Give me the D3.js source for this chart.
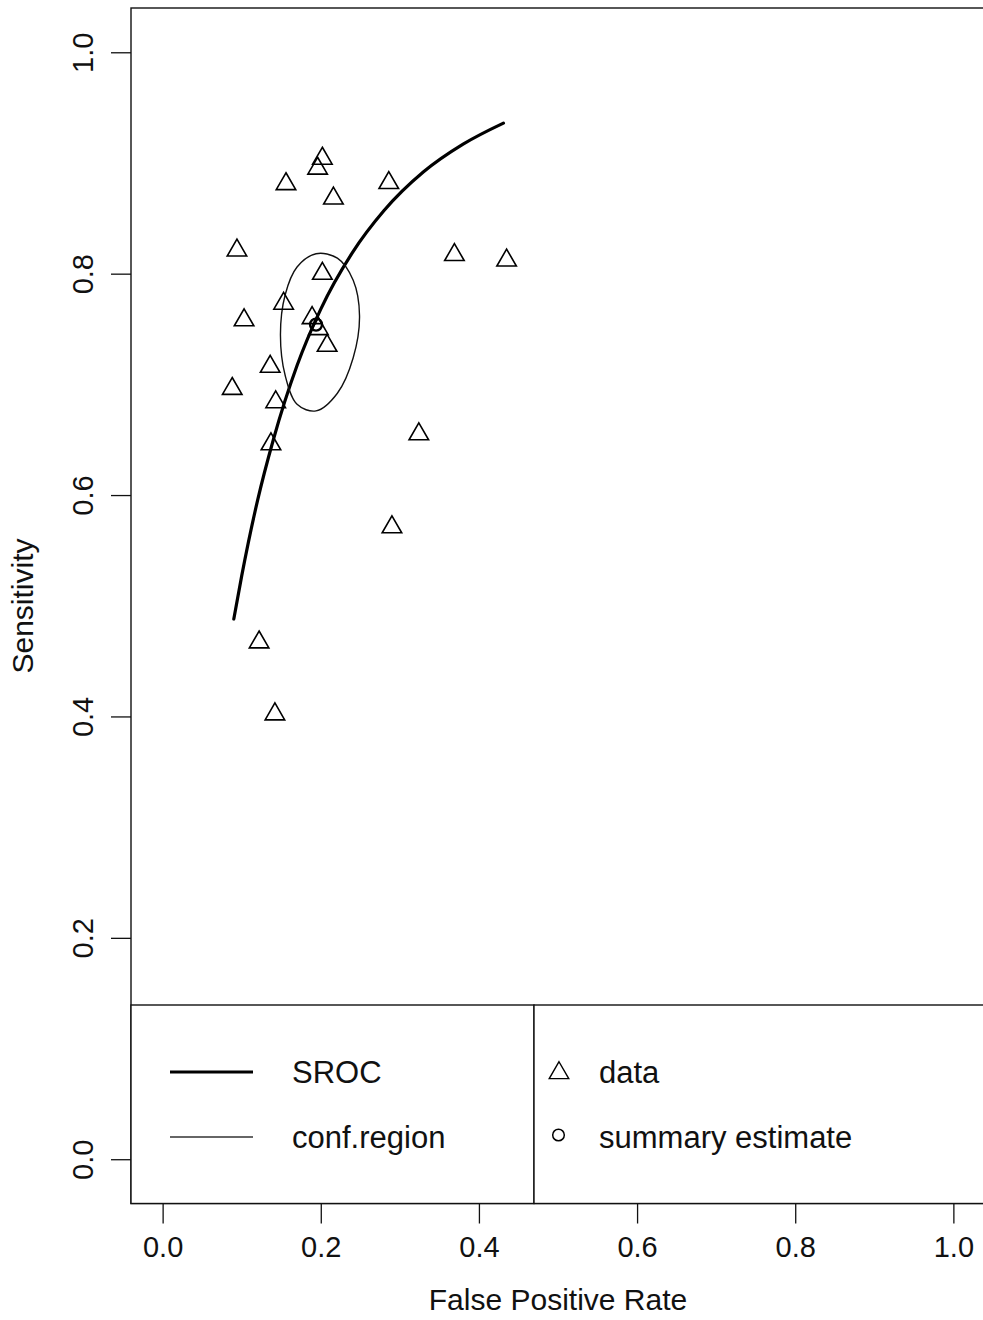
<!DOCTYPE html>
<html>
<head>
    <script type="text/javascript" src="https://d3js.org/d3.v7.min.js"></script>
</head>
<body style="margin:0px; background:white;">
    <svg id="SVGCanvas" width="983" height="1320"></svg>

    <script>
        // tick labels for both axes
        var tickVals = [0.0, 0.2, 0.4, 0.6, 0.8, 1.0];

        // the study points (triangles)
        var studyFpr  = [0.202, 0.196, 0.156, 0.286, 0.216, 0.094, 0.369, 0.435, 0.202, 0.153, 0.103,
                         0.189, 0.197, 0.208, 0.136, 0.088, 0.143, 0.324, 0.137, 0.290, 0.122, 0.142];
        var studySens = [0.904, 0.895, 0.881, 0.882, 0.868, 0.821, 0.817, 0.812, 0.800, 0.773, 0.758,
                         0.760, 0.750, 0.735, 0.716, 0.696, 0.684, 0.655, 0.646, 0.571, 0.467, 0.402];

        // summary estimate (circle)
        var summaryFpr = [0.194];
        var summarySens = [0.754];

        // SROC curve
        var srocFpr  = [0.090, 0.100, 0.120, 0.140, 0.170, 0.200, 0.240, 0.280, 0.330, 0.380, 0.431];
        var srocSens = [0.488, 0.527, 0.595, 0.650, 0.717, 0.768, 0.819, 0.857, 0.892, 0.917, 0.936];

        // confidence region outline
        var regionFpr  = [0.249, 0.241, 0.221, 0.194, 0.170, 0.155, 0.149, 0.155, 0.170, 0.194, 0.221, 0.241];
        var regionSens = [0.762, 0.794, 0.814, 0.818, 0.806, 0.781, 0.745, 0.708, 0.682, 0.676, 0.692, 0.724];

        // legends
        var lineLegend = ["SROC", "conf.region"];
        var pointLegend = ["data", "summary estimate"];

        var font = "'Liberation Sans', Arial, Helvetica, sans-serif";
        var svg = d3.select("svg");

        var x = d3.scaleLinear().domain([-0.04, 1.04]).range([131, 985]);
        var y = d3.scaleLinear().domain([-0.04, 1.04]).range([1203.5, 8]);

        var triangle = d3.symbol().type(d3.symbolTriangle).size(165);

        //x axis
        var xAxis = svg.append("g")
            .attr("transform", "translate(0,1203.5)")
            .call(d3.axisBottom(x).tickValues(tickVals).tickSize(20).tickFormat(d3.format(".1f")));
        xAxis.select(".domain").remove();
        xAxis.selectAll("line").attr("stroke", "#111").attr("stroke-width", 1.3);
        xAxis.selectAll("text")
            .attr("y", 53).attr("dy", null)
            .attr("fill", "#111")
            .style("font-family", font).style("font-size", "29px");

        //y axis, labels turned like R does
        var yAxis = svg.append("g")
            .attr("transform", "translate(131,0)")
            .call(d3.axisLeft(y).tickValues(tickVals).tickSize(20).tickFormat(d3.format(".1f")));
        yAxis.select(".domain").remove();
        yAxis.selectAll("line").attr("stroke", "#111").attr("stroke-width", 1.3);
        yAxis.selectAll("text")
            .attr("x", 0).attr("y", -38).attr("dy", null)
            .attr("transform", "rotate(-90)")
            .attr("text-anchor", "middle")
            .attr("fill", "#111")
            .style("font-family", font).style("font-size", "29px");

        // axis titles
        svg.append("text")
            .attr("x", 558).attr("y", 1310)
            .attr("text-anchor", "middle")
            .style("font-family", font).style("font-size", "30px").attr("fill", "#111")
            .text("False Positive Rate");
        svg.append("text")
            .attr("transform", "translate(33,606) rotate(-90)")
            .attr("text-anchor", "middle")
            .style("font-family", font).style("font-size", "30px").attr("fill", "#111")
            .text("Sensitivity");

        // SROC curve
        var srocLine = d3.line()
            .x(d => x(d[0])).y(d => y(d[1]))
            .curve(d3.curveMonotoneX);
        svg.append("path")
            .attr("d", srocLine(d3.zip(srocFpr, srocSens)))
            .attr("fill", "none").attr("stroke", "#000").attr("stroke-width", 3.2)
            .attr("stroke-linecap", "round");

        // confidence region
        var regionLine = d3.line()
            .x(d => x(d[0])).y(d => y(d[1]))
            .curve(d3.curveCatmullRomClosed);
        svg.append("path")
            .attr("d", regionLine(d3.zip(regionFpr, regionSens)))
            .attr("fill", "none").attr("stroke", "#111").attr("stroke-width", 1.4);

        // study triangles
        svg.append("g").selectAll("path")
            .data(d3.zip(studyFpr, studySens))
            .enter()
            .append("path")
            .attr("d", triangle)
            .attr("transform", d => "translate(" + x(d[0]) + "," + y(d[1]) + ")")
            .attr("fill", "none").attr("stroke", "#000").attr("stroke-width", 1.6);

        // summary estimate
        svg.append("g").selectAll("circle")
            .data(d3.zip(summaryFpr, summarySens))
            .enter()
            .append("circle")
            .attr("cx", d => x(d[0])).attr("cy", d => y(d[1]))
            .attr("r", 6)
            .attr("fill", "none").attr("stroke", "#000").attr("stroke-width", 2.4);

        // plot box
        svg.append("rect")
            .attr("x", 131).attr("y", 8).attr("width", 854).attr("height", 1195.5)
            .attr("fill", "none").attr("stroke", "#111").attr("stroke-width", 1.4);

        // the two legend boxes
        svg.append("rect")
            .attr("x", 131).attr("y", 1005).attr("width", 403).attr("height", 198.5)
            .attr("fill", "white").attr("stroke", "#111").attr("stroke-width", 1.4);
        svg.append("rect")
            .attr("x", 534).attr("y", 1005).attr("width", 460).attr("height", 198.5)
            .attr("fill", "white").attr("stroke", "#111").attr("stroke-width", 1.4);

        var legendRows = [1072, 1137];

        // left legend: lines
        var lineWidths = [3.2, 1.4];
        lineLegend.forEach(function(label, i) {
            svg.append("line")
                .attr("x1", 170).attr("x2", 253)
                .attr("y1", legendRows[i]).attr("y2", legendRows[i])
                .attr("stroke", i == 0 ? "#000" : "#333").attr("stroke-width", lineWidths[i]);
            svg.append("text")
                .attr("x", 292).attr("y", legendRows[i] + 11)
                .style("font-family", font).style("font-size", "31px").attr("fill", "#111")
                .text(label);
        });

        // right legend: symbols
        svg.append("path")
            .attr("d", triangle)
            .attr("transform", "translate(559," + (legendRows[0] + 1) + ")")
            .attr("fill", "none").attr("stroke", "#000").attr("stroke-width", 1.4);
        svg.append("circle")
            .attr("cx", 558.5).attr("cy", legendRows[1] - 2).attr("r", 5.8)
            .attr("fill", "none").attr("stroke", "#000").attr("stroke-width", 1.5);
        pointLegend.forEach(function(label, i) {
            svg.append("text")
                .attr("x", 599).attr("y", legendRows[i] + 11)
                .style("font-family", font).style("font-size", "31px").attr("fill", "#111")
                .text(label);
        });
    </script>
</body>
</html>
